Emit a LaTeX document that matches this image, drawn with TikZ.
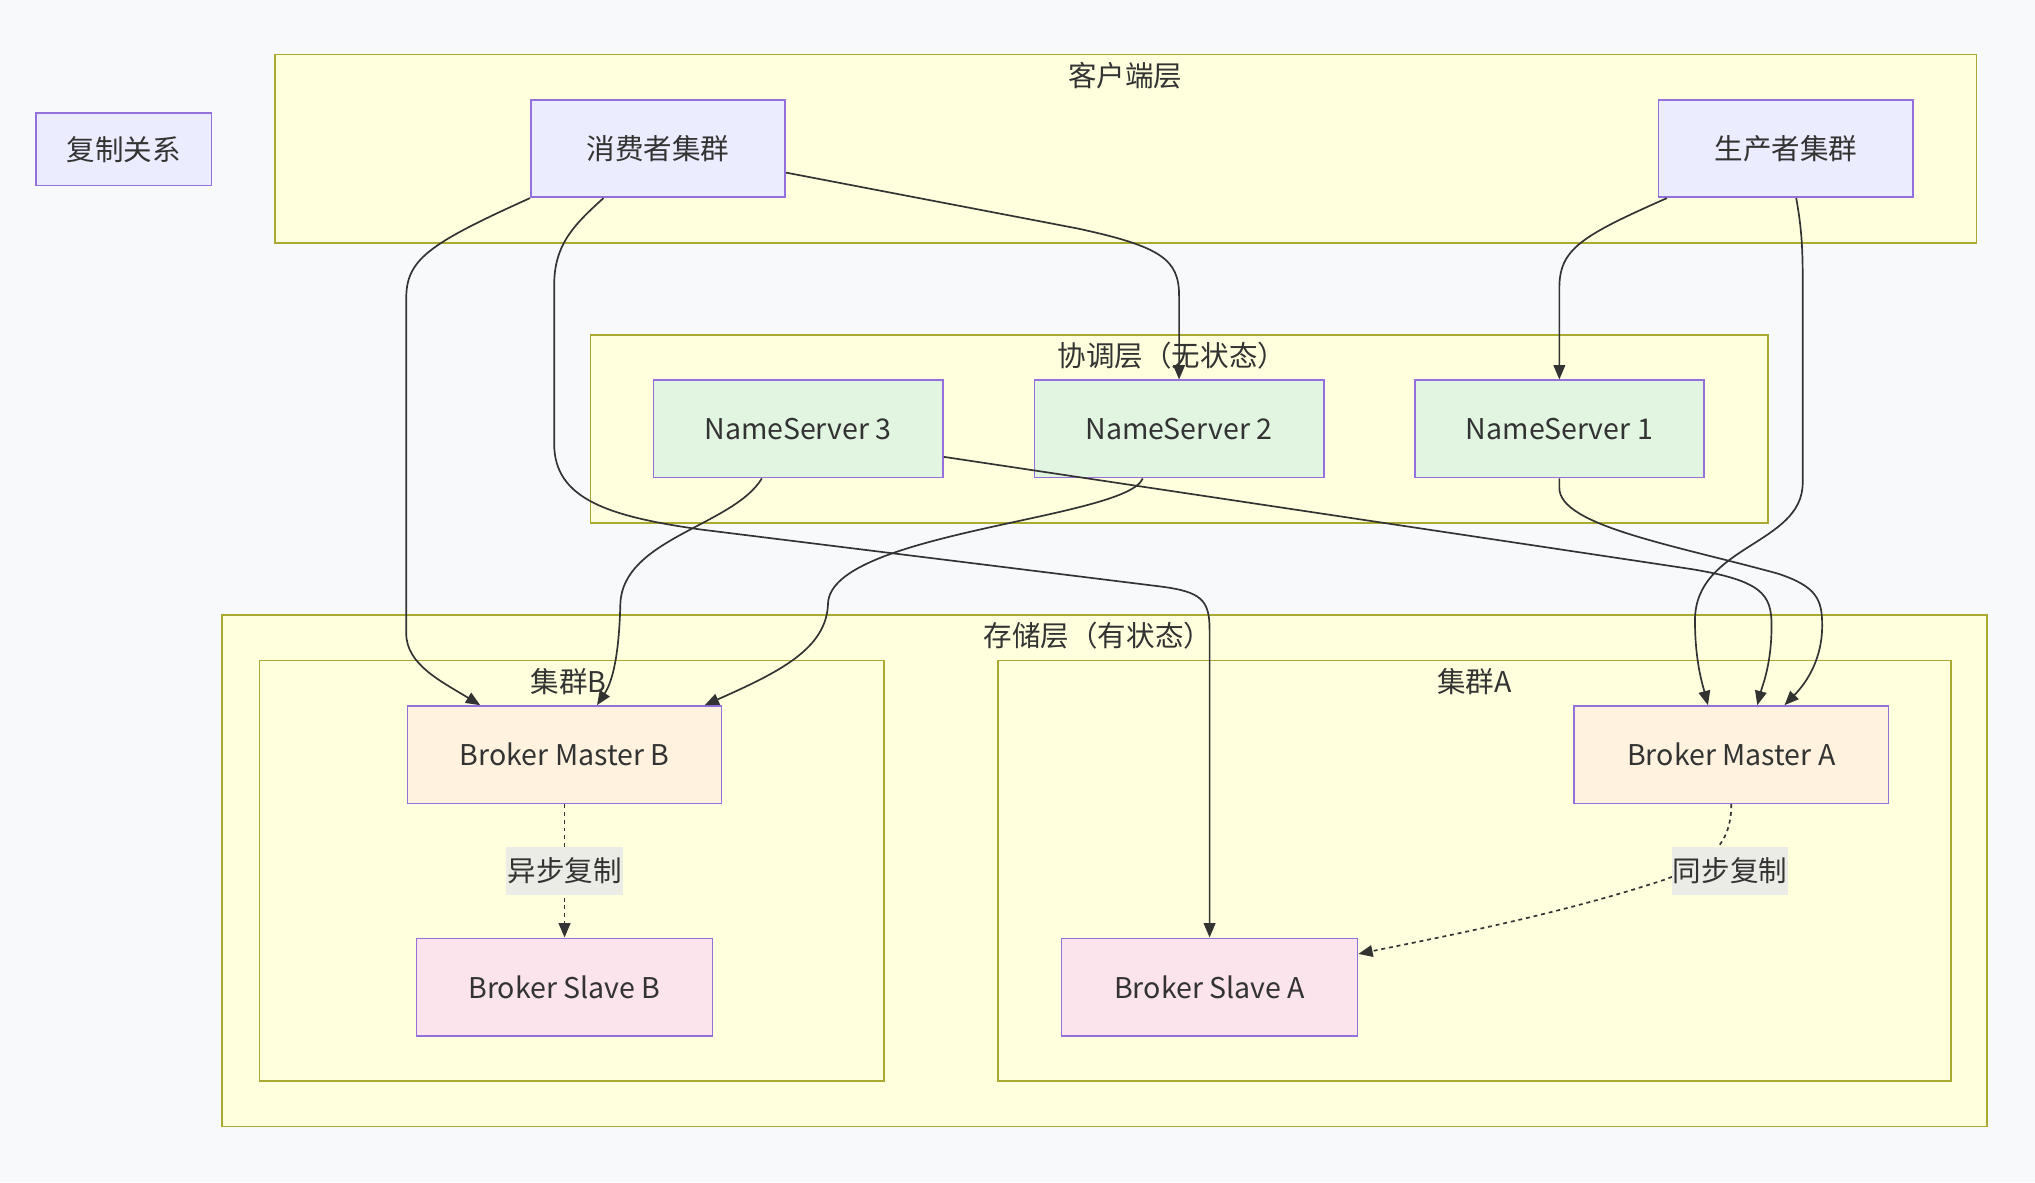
\documentclass[tikz,border=0pt]{standalone}
\usepackage{fontspec}
\setmainfont{Noto Sans CJK SC}
\usepackage{tikz}
\usetikzlibrary{arrows.meta, positioning, calc}

\definecolor{bgc}{RGB}{248,249,251}
\definecolor{clfill}{HTML}{FFFFDE}
\definecolor{clline}{HTML}{AAAA33}
\definecolor{ndfill}{HTML}{ECECFF}
\definecolor{ndline}{HTML}{9370DB}
\definecolor{nsfill}{HTML}{E1F5E1}
\definecolor{bmfill}{HTML}{FFF3E0}
\definecolor{bsfill}{HTML}{FCE4EC}
\definecolor{lnc}{HTML}{333333}
\definecolor{lblfill}{RGB}{236,236,230}

\begin{document}
\begin{tikzpicture}[x=1pt, y=-1pt,
    font=\fontsize{22}{26}\selectfont,
    grp/.style={fill=clfill, draw=clline, line width=1.3pt},
    box/.style={draw=ndline, line width=1.3pt, minimum height=75pt, text=lnc},
    link/.style={draw=lnc, line width=1.3pt, -{Triangle[length=11pt, width=9pt]}},
    rep/.style={link, dash pattern=on 3pt off 3pt},
    lbl/.style={fill=lblfill, inner xsep=1pt, minimum height=37pt, text=lnc}
]
    % 背景
    \fill[bgc] (0,0) rectangle (1568,911);
    \useasboundingbox (0,0) rectangle (1568,911);

    % 分层区域
    \draw[grp] (212,42) rectangle (1523,187);
    \draw[grp] (455,258) rectangle (1362,403);
    \draw[grp] (171,474) rectangle (1531,868);
    \draw[grp] (200,509) rectangle (681,833);
    \draw[grp] (769,509) rectangle (1503,833);
    \node[text=lnc] (tClient) at (867,58) {客户端层};
    \node[text=lnc] (tCoord) at (903,274) {协调层（无状态）};
    \node[text=lnc] (tStore) at (846,490) {存储层（有状态）};
    \node[text=lnc] (tClB) at (438,525) {集群B};
    \node[text=lnc] (tClA) at (1136,525) {集群A};

    % 节点
    \node[box, fill=ndfill, minimum width=135pt, minimum height=56pt] (repl) at (95.5,115) {复制关系};
    \node[box, fill=ndfill, minimum width=196pt] (cons) at (507,114.5) {消费者集群};
    \node[box, fill=ndfill, minimum width=196pt] (prod) at (1376,114.5) {生产者集群};
    \node[box, fill=nsfill, minimum width=223pt] (ns3) at (615,330.5) {NameServer 3};
    \node[box, fill=nsfill, minimum width=223pt] (ns2) at (908.5,330.5) {NameServer 2};
    \node[box, fill=nsfill, minimum width=223pt] (ns1) at (1201.5,330.5) {NameServer 1};
    \node[box, fill=bmfill, minimum width=242pt] (bmB) at (435,581.5) {Broker Master B};
    \node[box, fill=bsfill, minimum width=228pt] (bsB) at (435,760.5) {Broker Slave B};
    \node[box, fill=bmfill, minimum width=242pt] (bmA) at (1334,581.5) {Broker Master A};
    \node[box, fill=bsfill, minimum width=228pt] (bsA) at (932,760.5) {Broker Slave A};

    % 客户端连线
    \draw[link] (cons.south west) .. controls (330,188) and (313,200) .. (313,230) -- (313,488)
        .. controls (313,512) and (340,525) .. ([xshift=-65pt]bmB.north);
    \draw[link] ([xshift=-42pt]cons.south) .. controls (440,175) and (427,190) .. (427,220) -- (427,342)
        .. controls (427,385) and (470,398) .. (540,408) -- (895,452)
        .. controls (925,456) and (932,462) .. (932,485) -- (bsA.north);
    \draw[link] ([yshift=-18.5pt]cons.east) -- (830,176) .. controls (895,190) and (908.5,200) .. (908.5,228) -- (ns2.north);
    \draw[link] ([xshift=7pt]prod.south west) .. controls (1218,182) and (1201.5,192) .. (1201.5,222) -- (ns1.north);
    \draw[link] ([xshift=8pt]prod.south) .. controls (1388,175) and (1389,190) .. (1389,215) -- (1389,372)
        .. controls (1389,420) and (1306,420) .. (1306,478)
        .. controls (1306,510) and (1312,528) .. ([xshift=-18pt]bmA.north);

    % NameServer 连线
    \draw[link] ([xshift=-28pt]ns3.south) .. controls (565,405) and (480,415) .. (478,465)
        .. controls (477,505) and (472,525) .. ([xshift=25pt]bmB.north);
    \draw[link] ([xshift=-28pt]ns2.south) .. controls (868,400) and (640,410) .. (638,465)
        .. controls (637,500) and (600,518) .. ([xshift=108pt]bmB.north);
    \draw[link] ([yshift=-21.5pt]ns3.east) -- (1300,438) .. controls (1358,447) and (1365,458) .. (1365,482)
        .. controls (1365,512) and (1358,528) .. ([xshift=20pt]bmA.north);
    \draw[link] (ns1.south) -- (1201.5,376) .. controls (1201.5,405) and (1290,420) .. (1370,442)
        .. controls (1400,452) and (1404,462) .. (1404,482)
        .. controls (1404,512) and (1388,530) .. ([xshift=41pt]bmA.north);

    % 复制关系
    \draw[rep] (bmB.south) -- node[lbl] (lblB) {异步复制} (bsB.north);
    \draw[rep] (bmA.south) .. controls (1334,650) and (1318,665) .. (1282,678)
        .. controls (1200,705) and (1110,722) .. ([yshift=25.5pt]bsA.east);
    \node[lbl] (lblA) at (1333,671) {同步复制};
\end{tikzpicture}
\end{document}
